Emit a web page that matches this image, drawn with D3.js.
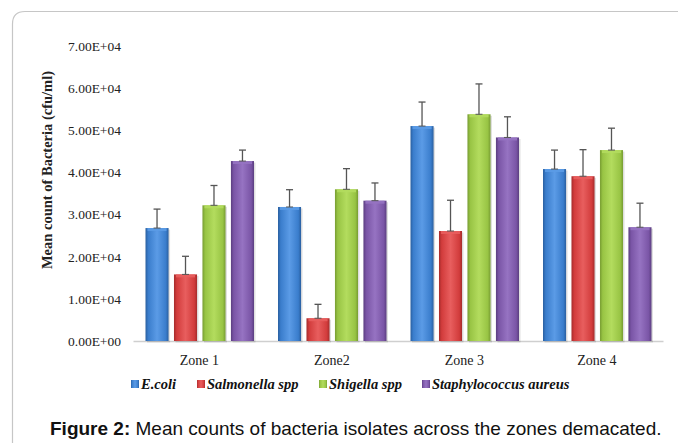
<!DOCTYPE html>
<html><head><meta charset="utf-8">
<script src="https://cdn.jsdelivr.net/npm/d3@7"></script>
<style>html,body{margin:0;padding:0;background:#fff;}svg{display:block;}</style>
</head><body>
<svg id="chart" width="678" height="443"></svg>
<script>
const zones = ["Zone 1", "Zone2", "Zone 3", "Zone 4"];
const series = ["E.coli", "Salmonella spp", "Shigella spp", "Staphylococcus aureus"];
const ecoli      = [26800, 31800, 51000, 40800];
const salmonella = [15800,  5400, 26100, 39100];
const shigella   = [32200, 36000, 53800, 45300];
const staph      = [42700, 33300, 48300, 27000];
const ecoliErr      = [4500, 4100, 5700, 4500];
const salmonellaErr = [4300, 3300, 7300, 6300];
const shigellaErr   = [4700, 4900, 7200, 5200];
const staphErr      = [2600, 4200, 4900, 5700];
const yTicks = [0, 10000, 20000, 30000, 40000, 50000, 60000, 70000];
const colors = [
  {base:"#3a7dcc", light:"#5b9be6", dark:"#2a5f9f"},
  {base:"#d23c3c", light:"#e85e5e", dark:"#a52c2c"},
  {base:"#98c444", light:"#b3dc5e", dark:"#779c32"},
  {base:"#7a55a6", light:"#9673c2", dark:"#5b3e80"}
];
const values = [ecoli, salmonella, shigella, staph];
const errs = [ecoliErr, salmonellaErr, shigellaErr, staphErr];

const svg = d3.select("#chart");
const defs = svg.append("defs");
colors.forEach((c,i)=>{
  const g = defs.append("linearGradient").attr("id","g"+i).attr("x1","0").attr("x2","1").attr("y1","0").attr("y2","0");
  g.append("stop").attr("offset","0").attr("stop-color",c.dark);
  g.append("stop").attr("offset","0.12").attr("stop-color",c.base);
  g.append("stop").attr("offset","0.5").attr("stop-color",c.light);
  g.append("stop").attr("offset","0.88").attr("stop-color",c.base);
  g.append("stop").attr("offset","1").attr("stop-color",c.dark);
});

// frame
svg.append("path")
  .attr("d","M12.5,443 L12.5,24 Q12.5,11.5 25,11.5 L678,11.5")
  .attr("fill","none").attr("stroke","#c6c6c6").attr("stroke-width",1.2);

const x0 = d3.scaleBand().domain(zones).range([133, 663]).padding(0);
const x1 = d3.scaleBand().domain(series).range([12.5, 121]).paddingInner(0.19);
const y = d3.scaleLinear().domain([0, 70000]).range([341, 46]);

// y tick labels
const yAxis = d3.axisLeft(y).tickValues(yTicks).tickSize(0).tickPadding(0)
  .tickFormat(d => { const m = (d/10000).toFixed(2); return m + "E+" + (d===0?"00":"04"); });
const ya = svg.append("g").attr("transform","translate(121,0)").call(yAxis);
ya.select(".domain").remove();
ya.selectAll("text").attr("font-family","'Liberation Serif','Times New Roman',serif").attr("font-size","13.5px").attr("fill","#222");

// x axis
const xAxis = d3.axisBottom(x0).tickSize(0).tickPadding(14);
const xa = svg.append("g").attr("transform","translate(0,341)").call(xAxis);
xa.select(".domain").attr("stroke","#cfcfcf").attr("stroke-width",1.5);
xa.selectAll("text").attr("font-family","'Liberation Serif','Times New Roman',serif").attr("font-size","14px").attr("fill","#222");

// bars
const groups = svg.append("g").selectAll("g").data(zones).join("g")
  .attr("transform", d => `translate(${x0(d)},0)`);
series.forEach((s,si)=>{
  groups.append("rect")
    .attr("x", x1(s)+1.5).attr("y", (d,i)=>y(values[si][i])+1.5)
    .attr("width", x1.bandwidth()).attr("height",(d,i)=>y(0)-y(values[si][i]))
    .attr("fill","#000").attr("opacity",0.12);
  groups.append("rect")
    .attr("x", x1(s)).attr("y", (d,i)=>y(values[si][i]))
    .attr("width", x1.bandwidth()).attr("height",(d,i)=>y(0)-y(values[si][i]))
    .attr("fill",`url(#g${si})`);
  groups.append("rect")
    .attr("x", x1(s)+2).attr("y", (d,i)=>y(values[si][i]))
    .attr("width", x1.bandwidth()-4).attr("height",3)
    .attr("fill",colors[si].light).attr("opacity",0.9);
  const cx = x1(s) + x1.bandwidth()/2;
  groups.append("line")
    .attr("x1",cx).attr("x2",cx)
    .attr("y1",(d,i)=>y(values[si][i])).attr("y2",(d,i)=>y(values[si][i]+errs[si][i]))
    .attr("stroke","#555").attr("stroke-width",1.3);
  groups.append("line")
    .attr("x1",cx-3.5).attr("x2",cx+3.5)
    .attr("y1",(d,i)=>y(values[si][i]+errs[si][i])).attr("y2",(d,i)=>y(values[si][i]+errs[si][i]))
    .attr("stroke","#555").attr("stroke-width",1.3);
  groups.append("line")
    .attr("x1",cx-3.5).attr("x2",cx+3.5)
    .attr("y1",(d,i)=>y(values[si][i])).attr("y2",(d,i)=>y(values[si][i]))
    .attr("stroke","#555").attr("stroke-width",1);
});

// y title
svg.append("text")
  .attr("transform","translate(52,170) rotate(-90)")
  .attr("text-anchor","middle")
  .attr("font-family","'Liberation Serif','Times New Roman',serif")
  .attr("font-weight","bold").attr("font-size","14.5px").attr("fill","#222")
  .text("Mean count of Bacteria (cfu/ml)");

// legend
const legX = [131, 197, 319, 422];
const leg = svg.append("g");
series.forEach((s,i)=>{
  leg.append("rect").attr("x",legX[i]).attr("y",380).attr("width",8).attr("height",8).attr("fill",`url(#g${i})`);
  leg.append("text").attr("x",legX[i]+10).attr("y",389)
    .attr("font-family","'Liberation Serif','Times New Roman',serif")
    .attr("font-weight","bold").attr("font-style","italic").attr("font-size","14.5px").attr("fill","#111")
    .text(s);
});

// caption
const cap = svg.append("text").attr("x",50).attr("y",435)
  .attr("font-family","'Liberation Sans',Arial,sans-serif").attr("font-size","19px").attr("fill","#111");
cap.append("tspan").attr("font-weight","bold").text("Figure 2:");
cap.append("tspan").text(" Mean counts of bacteria isolates across the zones demacated.");
</script>
</body></html>
